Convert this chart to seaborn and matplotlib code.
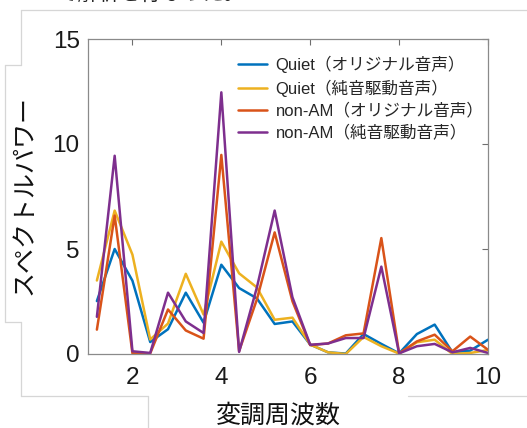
import matplotlib
matplotlib.use("Agg")
import matplotlib.pyplot as plt
from matplotlib.lines import Line2D
import seaborn as sns
import pandas as pd

# Modulation frequency axis
freq = [1.2, 1.6, 2.0, 2.4, 2.8, 3.2, 3.6, 4.0, 4.4, 4.8, 5.2, 5.6,
        6.0, 6.4, 6.8, 7.2, 7.6, 8.0, 8.4, 8.8, 9.2, 9.6, 10.0]

# Spectral power per condition
quiet_orig = [2.52, 5.00, 3.49, 0.57, 1.18, 2.92, 1.49, 4.25, 3.14, 2.65, 1.43, 1.55,
              0.45, 0.08, 0.02, 0.95, 0.48, 0.03, 0.95, 1.40, 0.08, 0.16, 0.68]
quiet_pure = [3.50, 6.83, 4.73, 0.69, 1.45, 3.82, 1.88, 5.35, 3.84, 3.17, 1.63, 1.73,
              0.45, 0.08, 0.00, 0.81, 0.37, 0.02, 0.56, 0.68, 0.00, 0.05, 0.19]
nonam_orig = [1.16, 6.59, 0.03, 0.03, 2.12, 1.12, 0.73, 9.48, 0.14, 2.60, 5.79, 2.51,
              0.42, 0.50, 0.89, 0.98, 5.52, 0.03, 0.60, 0.92, 0.13, 0.83, 0.20]
nonam_pure = [1.77, 9.44, 0.13, 0.05, 2.92, 1.55, 1.00, 12.46, 0.10, 3.17, 6.83, 2.70,
              0.44, 0.50, 0.76, 0.76, 4.16, 0.03, 0.37, 0.48, 0.08, 0.29, 0.05]

labels = ["Quiet（オリジナル音声）", "Quiet（純音駆動音声）",
          "non-AM（オリジナル音声）", "non-AM（純音駆動音声）"]
colors = ["#0072BD", "#EDB120", "#D95319", "#7E2F8E"]

x_ticks = [2, 4, 6, 8, 10]
y_ticks = [0, 5, 10, 15]

series = [quiet_orig, quiet_pure, nonam_orig, nonam_pure]
df = pd.concat(
    [pd.DataFrame({"freq": freq, "power": vals, "cond": lab}) for lab, vals in zip(labels, series)],
    ignore_index=True,
)

sns.set_style("white")
plt.rcParams["font.family"] = ["Liberation Sans", "Noto Sans CJK JP", "DejaVu Sans"]

W, H = 527, 428
fig = plt.figure(figsize=(W / 100, H / 100), dpi=100)
ax = fig.add_axes([88 / W, 1 - 354 / H, 400 / W, 315 / H])

sns.lineplot(data=df, x="freq", y="power", hue="cond", hue_order=labels,
             palette=colors, linewidth=1.8, ax=ax, legend=True)

ax.set_xlim(1, 10)
ax.set_ylim(0, 15)
ax.set_xticks(x_ticks)
ax.set_yticks(y_ticks)
ax.tick_params(axis="both", direction="in", length=4, width=0.8, color="#6e6e6e",
               labelsize=17.5, labelcolor="#1a1a1a", top=True, right=True)
ax.tick_params(axis="x", pad=9)
ax.tick_params(axis="y", pad=6)
for sp in ax.spines.values():
    sp.set_visible(True)
    sp.set_color("#8a8a8a")
    sp.set_linewidth(0.9)

ax.set_xlabel("変調周波数", fontsize=18, color="#111111")
ax.set_ylabel("スペクトルパワー", fontsize=18, color="#111111")
ax.xaxis.label.set_va("center")
ax.yaxis.label.set_va("center")
ax.xaxis.set_label_coords((278 - 88) / 400, -(416 - 354) / 315)
ax.yaxis.set_label_coords((25 - 88) / 400, 1 - (195 - 39) / 315)

ax.legend(loc="upper left", bbox_to_anchor=(0.375, 0.946), frameon=False,
          fontsize=12, handlelength=1.75, handletextpad=0.5, labelspacing=0.37,
          borderaxespad=0, borderpad=0)

# Faint page frame lines around the figure
frame = "#d6d6d6"
segments = [
    ((21, 527), (9.5, 9.5)),
    ((21, 21), (9.5, 65)),
    ((5, 21), (65, 65)),
    ((5, 5), (65, 322)),
    ((5, 21), (322, 322)),
    ((21, 21), (322, 396)),
    ((21, 148), (396, 396)),
    ((148, 148), (396, 428)),
    ((408, 527), (396, 396)),
]
for xs, ys in segments:
    fig.add_artist(Line2D([x / W for x in xs], [1 - y / H for y in ys],
                          color=frame, linewidth=0.9))

# Tail of the preceding paragraph line
fig.text(-6 / W, 1 - 5 / H, "について解析を行なった。", fontsize=15,
         ha="left", va="bottom", color="#222222")

fig.savefig("out.png", dpi=100)
